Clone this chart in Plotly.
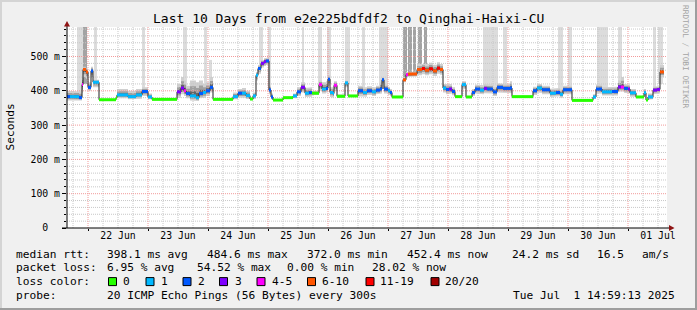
import plotly.graph_objects as go
import pandas as pd

# ---------------- data ----------------
# step series: start time in hours since 2025-06-22 00:00
seg_hours = [-8.4, -7.2, -3.6, -2.4, -2.0, -0.8, 0.0, 1.2, 2.0, 4.4,
             11.2, 11.6, 16.0, 19.2, 21.6, 24.0, 25.6,
             35.6, 37.2, 38.4, 39.2, 40.8, 43.2, 44.4, 46.0, 47.2, 48.8, 50.0,
             58.0, 60.0, 61.6, 63.2, 64.8, 66.0, 67.2, 68.0, 69.2, 70.4, 71.2, 72.4, 73.2, 74.0, 78.0,
             82.0, 83.6, 85.2, 86.8, 88.4, 89.6, 92.4, 93.6, 95.2, 96.0, 96.8, 98.0, 98.4, 99.6,
             102.8, 104.0, 108.0, 110.0, 111.6, 113.6, 115.2, 116.8, 117.6, 118.4, 120.0, 120.8, 121.6,
             126.0, 127.2, 128.0, 131.6, 133.6, 134.8, 136.4, 138.0, 139.6, 140.8,
             142.0, 143.2, 144.4, 145.6, 146.8, 149.6, 151.2, 153.6, 154.8, 156.8, 158.4, 159.6,
             162.0, 163.6, 166.0, 168.8, 169.6, 178.0, 179.6, 181.6, 184.8, 187.2, 188.8, 190.0, 193.6,
             202.0, 203.2, 205.6, 209.6, 212.0, 213.2, 214.4, 216.0, 216.8, 219.2, 222.4, 223.2, 224.0,
             226.0, 227.6, 228.8]
end_hour = 230.4
median_ms = [383, 383, 380, 418, 462, 455, 410, 458, 425, 374,
             380, 388, 383, 388, 398, 382, 375,
             397, 408, 400, 392, 385, 380, 392, 395, 400, 410, 375,
             383, 393, 393, 386, 376, 385, 445, 465, 480, 485, 487, 402, 382, 373, 380,
             385, 397, 410, 393, 395, 393, 418, 405, 407, 434, 395, 392, 416, 384,
             423, 385, 400, 395, 400, 397, 402, 405, 432, 405, 400, 395, 382,
             432, 447, 449, 462, 465, 460, 464, 458, 466, 462,
             408, 404, 405, 398, 383, 418, 382, 395, 405, 402, 407, 405,
             397, 410, 407, 408, 383, 400, 408, 403, 393, 395, 390, 403, 372,
             382, 405, 397, 398, 411, 411, 407, 405, 394, 382, 394, 373, 382,
             402, 404, 455]
loss_bin = [2, 1, 2, 4, 5, 5, 2, 2, 1, 0,
            0, 1, 1, 1, 2, 1, 0,
            3, 3, 4, 2, 1, 1, 2, 1, 2, 2, 0,
            1, 2, 1, 1, 0, 1, 1, 2, 3, 3, 2, 2, 2, 0, 0,
            1, 2, 3, 1, 2, 0, 4, 1, 2, 2, 1, 1, 4, 0,
            1, 0, 2, 1, 2, 1, 2, 2, 2, 2, 1, 2, 0,
            5, 4, 5, 5, 6, 5, 6, 5, 6, 5,
            1, 2, 3, 2, 0, 1, 0, 2, 2, 1, 3, 2,
            2, 2, 2, 2, 0, 2, 1, 2, 1, 2, 1, 2, 0,
            1, 2, 1, 2, 3, 4, 2, 3, 1, 0, 1, 0, 1,
            3, 3, 5]
smoke_lo_ms = [372, 372, 372, 395, 440, 435, 400, 440, 410, 374,
               378, 378, 375, 377, 385, 375, 375,
               380, 390, 385, 378, 372, 370, 378, 380, 385, 395, 375,
               375, 380, 380, 376, 376, 376, 430, 450, 468, 472, 475, 390, 375, 373, 380,
               378, 385, 395, 382, 383, 388, 400, 392, 395, 415, 382, 380, 400, 380,
               410, 385, 385, 383, 388, 385, 390, 392, 415, 392, 388, 385, 382,
               425, 440, 442, 445, 448, 445, 448, 443, 450, 447,
               395, 390, 392, 387, 383, 405, 382, 385, 392, 390, 393, 392,
               385, 395, 393, 393, 383, 388, 394, 390, 382, 384, 380, 390, 372,
               376, 392, 386, 386, 398, 398, 394, 392, 383, 382, 383, 373, 375,
               390, 392, 440]
smoke_hi_ms = [400, 400, 398, 440, 470, 465, 425, 470, 432, 374,
               382, 405, 400, 405, 410, 392, 375,
               420, 440, 430, 415, 430, 425, 430, 420, 425, 440, 375,
               395, 405, 408, 400, 376, 395, 455, 475, 490, 495, 497, 415, 392, 373, 380,
               392, 410, 425, 408, 410, 400, 430, 425, 428, 445, 410, 405, 428, 390,
               430, 385, 415, 410, 413, 410, 415, 425, 440, 418, 412, 405, 382,
               440, 455, 456, 478, 480, 478, 482, 476, 483, 478,
               420, 418, 420, 410, 383, 428, 382, 405, 418, 416, 420, 418,
               410, 422, 420, 428, 383, 412, 420, 415, 406, 408, 404, 415, 372,
               390, 418, 410, 412, 430, 440, 420, 418, 405, 382, 405, 373, 392,
               412, 414, 475]

# tall smoke columns (hours since 2025-06-22 00:00), bottom / top in ms, 1 = dark
bar_start_h = [-4.4, -2.0, 2.4, 21.6, 38.0, 46.4, 48.4, 68.4, 72.0, 85.6, 92.0, 95.6,
               102.8, 109.6, 116.4, 126.0, 128.0, 130.0, 132.0, 134.4, 158.0, 166.0,
               188.0, 192.0, 203.6, 212.0, 226.0, 228.0]
bar_end_h = [-2.0, -0.4, 3.6, 22.8, 39.6, 47.6, 49.6, 70.0, 73.2, 86.4, 93.6, 97.2,
             104.8, 110.8, 120.0, 127.6, 129.6, 131.2, 133.6, 135.6, 164.0, 167.6,
             190.0, 193.6, 208.0, 213.6, 227.2, 230.0]
bar_bottom_ms = [395, 420, 420, 400, 405, 400, 405, 470, 400, 405, 410, 420,
                 420, 400, 405, 440, 445, 450, 460, 460, 405, 405,
                 400, 400, 405, 420, 400, 420]
bar_top_ms = [586, 586, 586, 586, 586, 586, 490, 586, 586, 586, 586, 586,
              586, 586, 586, 586, 586, 586, 586, 586, 586, 586,
              586, 586, 586, 586, 586, 586]
bar_dark = [0, 1, 0, 0, 0, 0, 0, 0, 0, 0, 0, 0,
            0, 0, 0, 1, 1, 1, 1, 1, 0, 0,
            0, 0, 0, 0, 0, 0]

loss_labels = ["0", "1", "2", "3", "4-5", "6-10", "11-19", "20/20"]
loss_colors = ["#26ff00", "#00b8ff", "#0059ff", "#7e00ff", "#ff00fe", "#ff5500", "#ff0000", "#a10000"]

day_labels = ["22 Jun", "23 Jun", "24 Jun", "25 Jun", "26 Jun", "27 Jun",
              "28 Jun", "29 Jun", "30 Jun", "01 Jul"]
y_tick_vals = [0, 100, 200, 300, 400, 500]
y_tick_text = ["0\u00a0\u00a0", "100 m", "200 m", "300 m", "400 m", "500 m"]
y_max = 586

title_text = "Last 10 Days from e2e225bdfdf2 to Qinghai-Haixi-CU"
rtt_stats = ["median rtt:", "398.1 ms avg", "484.6 ms max", "372.0 ms min",
             "452.4 ms now", "24.2 ms sd", "16.5", "am/s"]
loss_stats = ["packet loss:", "6.95 % avg", "54.52 % max", "0.00 % min", "28.02 % now"]
probe_text = ["probe:", "20 ICMP Echo Pings (56 Bytes) every 300s",
              "Tue Jul \u00a01 14:59:13 2025"]

# ---------------- layout helpers ----------------
L, R, TOP, BOT = 67, 667, 27, 228
W, H = 697, 310
def px(x):
    return (x - L) / (R - L)
def py(y):
    return (BOT - y) / (BOT - TOP)

base = pd.Timestamp("2025-06-22 00:00")
def T(h):
    return base + pd.to_timedelta(h, unit="h")

x0, x1 = T(-8.4), T(231.6)
FONT = "DejaVu Sans Mono"

fig = go.Figure()

# tall columns
for dark, col in [(0, "#dcdcdc"), (1, "#a3a3a3")]:
    idx = [i for i in range(len(bar_dark)) if bar_dark[i] == dark]
    fig.add_trace(go.Bar(
        x=[T((bar_start_h[i] + bar_end_h[i]) / 2) for i in idx],
        y=[bar_top_ms[i] - bar_bottom_ms[i] for i in idx],
        base=[bar_bottom_ms[i] for i in idx],
        width=[(bar_end_h[i] - bar_start_h[i]) * 3600 * 1000 for i in idx],
        marker=dict(color=col, line=dict(width=0)),
        hoverinfo="skip", showlegend=False))

# smoke
edges = list(seg_hours) + [end_hour]
times = [T(h) for h in edges]
n = len(seg_hours)
for f, col in [(1.0, "#d0d0d0"), (0.62, "#a0a0a0"), (0.3, "#666666")]:
    xs, ys = [], []
    for i in range(n):
        u = median_ms[i] + f * (smoke_hi_ms[i] - median_ms[i])
        xs += [times[i], times[i + 1]]
        ys += [u, u]
    for i in reversed(range(n)):
        lo = median_ms[i] - f * (median_ms[i] - smoke_lo_ms[i])
        xs += [times[i + 1], times[i]]
        ys += [lo, lo]
    fig.add_trace(go.Scatter(x=xs, y=ys, fill="toself", fillcolor=col,
                             line=dict(width=0), mode="lines",
                             hoverinfo="skip", showlegend=False))

# grid (drawn over the smoke, as rrdtool does)
def grid_trace(vert_h, horiz_ms, color):
    xs, ys = [], []
    for h in vert_h:
        xs += [T(h), T(h), None]
        ys += [0, y_max, None]
    for v in horiz_ms:
        xs += [x0, x1, None]
        ys += [v, v, None]
    return go.Scatter(x=xs, y=ys, mode="lines",
                      line=dict(color=color, width=1, dash="1px,1px"),
                      hoverinfo="skip", showlegend=False)

minor_v = [h for h in range(-6, 231, 6) if h % 24 != 0]
major_v = [h for h in range(0, 231, 24)]
minor_h = [v for v in range(20, 586, 20) if v % 100 != 0]
major_h = [v for v in range(100, 586, 100)]
fig.add_trace(grid_trace(minor_v, minor_h, "#c8c8c8"))
fig.add_trace(grid_trace(major_v, major_h, "#f29a9a"))

# median line
fig.add_trace(go.Scatter(x=times, y=median_ms + [median_ms[-1]], mode="lines",
                         line=dict(color="#202020", width=1, shape="hv"),
                         hoverinfo="skip", showlegend=False))
for b, col in enumerate(loss_colors):
    xs, ys = [], []
    for i in range(n):
        if loss_bin[i] == b:
            xs += [times[i], times[i + 1], None]
            ys += [median_ms[i], median_ms[i], None]
    if xs:
        fig.add_trace(go.Scatter(x=xs, y=ys, mode="lines",
                                 line=dict(color=col, width=3),
                                 hoverinfo="skip", showlegend=False))

# ---------------- decorations ----------------
shapes = []
# frame
shapes.append(dict(type="rect", xref="paper", yref="paper", x0=px(0), x1=px(W), y0=py(0), y1=py(2),
                   fillcolor="#d4d4d4", line=dict(width=0), layer="below"))
shapes.append(dict(type="rect", xref="paper", yref="paper", x0=px(0), x1=px(2), y0=py(0), y1=py(H),
                   fillcolor="#d4d4d4", line=dict(width=0), layer="below"))
shapes.append(dict(type="rect", xref="paper", yref="paper", x0=px(0), x1=px(W), y0=py(H - 2), y1=py(H),
                   fillcolor="#9e9e9e", line=dict(width=0), layer="below"))
shapes.append(dict(type="rect", xref="paper", yref="paper", x0=px(W - 2), x1=px(W), y0=py(0), y1=py(H),
                   fillcolor="#9e9e9e", line=dict(width=0), layer="below"))
# axes
shapes.append(dict(type="line", xref="paper", yref="paper", x0=px(62), x1=px(670), y0=0, y1=0,
                   line=dict(color="#000000", width=1)))
shapes.append(dict(type="line", xref="paper", yref="paper", x0=0, x1=0, y0=0, y1=py(24),
                   line=dict(color="#000000", width=1)))
# arrows
shapes.append(dict(type="path", xref="paper", yref="paper",
                   path=f"M {px(67)} {py(21)} L {px(64)} {py(26.5)} L {px(70)} {py(26.5)} Z",
                   fillcolor="#8f1414", line=dict(width=0)))
shapes.append(dict(type="path", xref="paper", yref="paper",
                   path=f"M {px(674.5)} {py(228)} L {px(669)} {py(225)} L {px(669)} {py(231)} Z",
                   fillcolor="#8f1414", line=dict(width=0)))

ann = []
def text(x, y, s, size=11.2, anchor="left", color="#000000", angle=0, family=FONT):
    ann.append(dict(xref="paper", yref="paper", x=px(x), y=py(y), text=s, showarrow=False,
                    xanchor=anchor, yanchor="middle", borderpad=0, textangle=angle,
                    font=dict(family=family, size=size, color=color)))

text(348.5, 18.5, title_text, size=13, anchor="center")
text(10, 127.5, "Seconds", size=11.2, anchor="center", angle=-90)
text(686, 57, "RRDTOOL / TOBI OETIKER", size=7.8, anchor="center", color="#a4a4a4",
     angle=90, family="DejaVu Sans Mono")

row_y = [254.0, 267.8, 281.6, 295.4]
rtt_x = [16, 107, 206.7, 306.5, 407.3, 512.3, 597.3, 641.7]
for s, x in zip(rtt_stats, rtt_x):
    text(x - 1, row_y[0], s)
loss_x = [16, 107.3, 196.5, 286.7, 371.7]
for s, x in zip(loss_stats, loss_x):
    text(x - 1, row_y[1], s)
text(15, row_y[2], "loss color:")
box_x = [108.5, 146, 183, 219.5, 257, 307.5, 366, 431]
lab_x = [123.3, 160.7, 198.3, 235, 271.7, 321.7, 380, 445]
for bx, lx, lab, col in zip(box_x, lab_x, loss_labels, loss_colors):
    shapes.append(dict(type="rect", xref="paper", yref="paper",
                       x0=px(bx), x1=px(bx + 8), y0=py(row_y[2] + 4), y1=py(row_y[2] - 4),
                       fillcolor=col, line=dict(color="#000000", width=1)))
    text(lx - 1, row_y[2], lab)
probe_x = [16, 107, 513.3]
for s, x in zip(probe_text, probe_x):
    text(x - 1, row_y[3], s)

fig.update_layout(
    width=W, height=H,
    margin=dict(l=L, r=W - R, t=TOP, b=H - BOT, pad=0),
    paper_bgcolor="#f0f0f0", plot_bgcolor="#ffffff",
    barmode="overlay", showlegend=False,
    shapes=shapes, annotations=ann,
    font=dict(family=FONT, color="#000000"),
    xaxis=dict(type="date", range=[x0, x1], showgrid=False, zeroline=False, showline=False,
               tickmode="array", tickvals=[T(12 + 24 * k) for k in range(len(day_labels))],
               ticktext=day_labels, ticks="", tickfont=dict(family=FONT, size=9.8, color="#000000"),
               minor=dict(tickvals=[T(24 * k) for k in range(len(day_labels))], ticks="outside",
                          ticklen=2, tickcolor="#000000", showgrid=False),
               fixedrange=True),
    yaxis=dict(range=[0, y_max], showgrid=False, zeroline=False, showline=False,
               tickmode="array", tickvals=y_tick_vals, ticktext=y_tick_text,
               ticks="outside", ticklen=4, tickcolor="#000000",
               tickfont=dict(family=FONT, size=9.8, color="#000000"),
               minor=dict(tickvals=[v for v in range(20, 586, 20) if v % 100 != 0],
                          ticks="outside", ticklen=2, tickcolor="#000000", showgrid=False),
               fixedrange=True),
)

fig.write_html("out.html")
